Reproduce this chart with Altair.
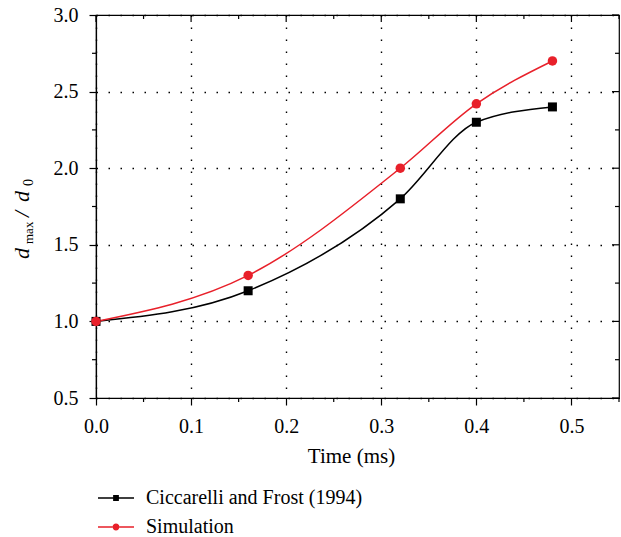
import altair as alt
import pandas as pd

# ---------------- data ----------------
series_names = ["Ciccarelli and Frost (1994)", "Simulation"]
time_ms = [0.0, 0.16, 0.32, 0.40, 0.48]
exp_vals = [1.0, 1.2, 1.8, 2.3, 2.4]
sim_vals = [1.0, 1.3, 2.0, 2.42, 2.7]
x_major = [0.0, 0.1, 0.2, 0.3, 0.4, 0.5]
x_minor = [0.05, 0.15, 0.25, 0.35, 0.45, 0.55]
y_major = [0.5, 1.0, 1.5, 2.0, 2.5, 3.0]
y_minor = [0.75, 1.25, 1.75, 2.25, 2.75]
colors = ["#000000", "#e8202a"]

rows = []
for s, vals in zip(series_names, [exp_vals, sim_vals]):
    for t, v in zip(time_ms, vals):
        rows.append({"series": s, "time": t, "ratio": v})
df = pd.DataFrame(rows)

W, H = 523, 383
FONT = "Liberation Serif"

xs = alt.Scale(domain=[0, 0.55], nice=False, zero=False)
ys = alt.Scale(domain=[0.5, 3.0], nice=False, zero=False)
col_scale = alt.Scale(domain=series_names, range=colors)

x_axis = alt.Axis(
    values=x_major, format=".1f",
    title="Time (ms)", titleFont=FONT, titleFontSize=21, titleFontWeight="normal",
    titleColor="black", titlePadding=9, titleX=255,
    labelFont=FONT, labelFontSize=20, labelColor="black", labelPadding=11,
    labelFlush=False, labelOverlap=False,
    tickColor="black", tickWidth=1.2, tickSize=7,
    domainColor="black", domainWidth=1.2,
    grid=True, gridColor="black", gridDash=[1.5, 10.5], gridWidth=1.4,
)
y_axis = alt.Axis(
    values=y_major, format=".1f",
    title=None,
    labelFont=FONT, labelFontSize=20, labelColor="black", labelPadding=11,
    labelFlush=False, labelOverlap=False,
    tickColor="black", tickWidth=1.2, tickSize=7,
    domainColor="black", domainWidth=1.2,
    grid=True, gridColor="black", gridDash=[1.5, 10.5], gridWidth=1.4,
)
X = alt.X("time:Q", scale=xs, axis=x_axis)
Y = alt.Y("ratio:Q", scale=ys, axis=y_axis)

base = alt.Chart(df)
only_exp = alt.datum.series == series_names[0]
only_sim = alt.datum.series == series_names[1]

line_exp = base.transform_filter(only_exp).mark_line(
    interpolate="monotone", strokeWidth=1.5, color=colors[0]).encode(x=X, y=Y)
line_sim = base.transform_filter(only_sim).mark_line(
    interpolate="monotone", strokeWidth=1.5, color=colors[1]).encode(x=X, y=Y)
squares = base.transform_filter(only_exp).mark_square(
    size=81, color=colors[0], opacity=1).encode(x=X, y=Y)
circles = base.transform_filter(only_sim).mark_circle(
    size=90, color=colors[1], opacity=1).encode(x=X, y=Y)

# legend glyphs: line (thin filled bars) + marker, in unit coordinates
sq_path = ("M-1,-0.04H-0.16V0.04H-1Z M0.16,-0.04H1V0.04H0.16Z "
           "M-0.16,-0.16H0.16V0.16H-0.16Z")
ci_path = ("M-1,-0.04H-0.19V0.04H-1Z M0.19,-0.04H1V0.04H0.19Z "
           "M-0.19,0A0.19,0.19,0,1,0,0.19,0A0.19,0.19,0,1,0,-0.19,0Z")
leg = alt.Legend(orient="none", legendX=2, legendY=465, padding=0,
                 title=None, labelFont=FONT, labelFontSize=20,
                 labelColor="black", labelOffset=12, labelLimit=400,
                 symbolSize=1296, symbolStrokeWidth=0,
                 symbolOpacity=1, rowPadding=1)
legend_layer = base.mark_point(filled=True, opacity=0).encode(
    x=X, y=Y,
    shape=alt.Shape("series:N", scale=alt.Scale(domain=series_names, range=[sq_path, ci_path]),
                    legend=leg),
    fill=alt.Fill("series:N", scale=col_scale, legend=leg),
)

# minor outer ticks and inner ticks on top/right frame
tx_major = pd.DataFrame({"time": x_major})
tx_minor = pd.DataFrame({"time": x_minor})
ty_major = pd.DataFrame({"ratio": y_major})
ty_minor = pd.DataFrame({"ratio": y_minor})
rule = dict(color="black", strokeWidth=1.2)
bottom_minor = alt.Chart(tx_minor).mark_rule(**rule).encode(
    x=X, y=alt.value(H), y2=alt.value(H + 4))
left_minor = alt.Chart(ty_minor).mark_rule(**rule).encode(
    y=Y, x=alt.value(0), x2=alt.value(-4))
top_major = alt.Chart(tx_major).mark_rule(**rule).encode(
    x=X, y=alt.value(0), y2=alt.value(7))
top_minor = alt.Chart(tx_minor).mark_rule(**rule).encode(
    x=X, y=alt.value(0), y2=alt.value(4))
right_major = alt.Chart(ty_major).mark_rule(**rule).encode(
    y=Y, x=alt.value(W), x2=alt.value(W - 7))
right_minor = alt.Chart(ty_minor).mark_rule(**rule).encode(
    y=Y, x=alt.value(W), x2=alt.value(W - 4))

# y-axis title: d_max / d_0
one = pd.DataFrame({"k": [0]})
def piece(txt, y, x, size, italic):
    kw = dict(text=txt, font=FONT, fontSize=size, angle=270, align="left",
              baseline="alphabetic", color="black")
    if italic:
        kw["fontStyle"] = "italic"
    return alt.Chart(one).mark_text(**kw).encode(x=alt.value(x), y=alt.value(y))

ytitle = [
    piece("d", 244, -67, 22, True),
    piece("max", 229, -63, 13, False),
    piece("/", 202, -67, 22, True),
    piece("d", 187, -67, 22, True),
    piece("0", 171, -63, 14, False),
]

chart = alt.layer(
    line_exp, line_sim, squares, circles, legend_layer,
    bottom_minor, left_minor, top_major, top_minor, right_major, right_minor, *ytitle
).properties(
    width=W, height=H, autosize="none",
    padding={"left": 96, "top": 15, "right": 2, "bottom": 139},
).configure(font=FONT).configure_view(stroke="black", strokeWidth=1.2)

chart.save("out.html", embed_options={"renderer": "svg", "actions": False})
